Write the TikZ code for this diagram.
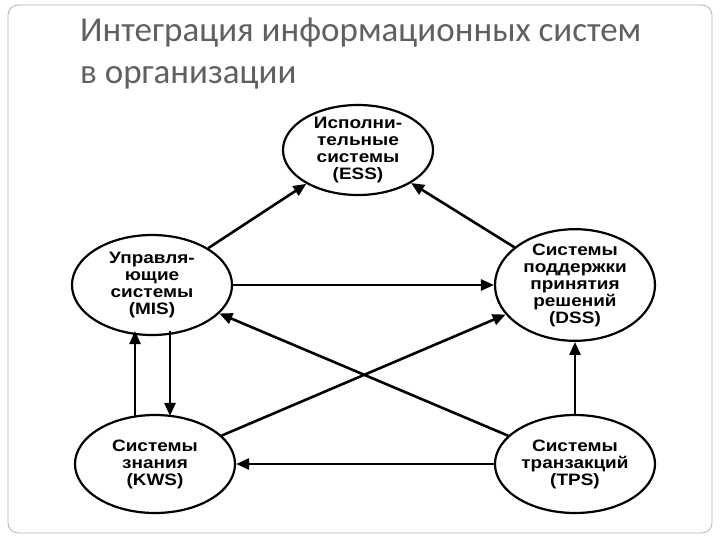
\documentclass[tikz,border=0pt]{standalone}
\usepackage{fontspec}
\setmainfont{Liberation Sans}
\newfontfamily\titlefont{Carlito}
\newfontfamily\boxfont[FakeStretch=1.15]{Liberation Sans}
\usetikzlibrary{arrows.meta,shapes.geometric}
\begin{document}
\begin{tikzpicture}[x=1pt,y=-1pt,
  sys/.style={ellipse,draw,line width=2.2pt,minimum width=#1,inner sep=-2pt,font=\boxfont\bfseries\fontsize{16.5}{17}\selectfont,align=center},
  arr/.style={-{Triangle[length=13pt,width=11pt]},line width=2.6pt}]
\useasboundingbox (0,0) rectangle (720,540);
\draw[gray!60,rounded corners=10pt,line width=0.8pt] (8,5) rectangle (712,533);
\node[anchor=west,inner sep=0pt,text=gray!75!black,font=\titlefont\fontsize{35}{42}\selectfont,align=left] (title) at (80,54) {Интеграция информационных систем\\в организации};
\node[sys=150pt,minimum height=90pt] (ess) at (358,150) {Исполни-\\тельные\\системы\\(ESS)};
\node[sys=160pt,minimum height=100pt] (mis) at (152,285) {Управля-\\ющие\\системы\\(MIS)};
\node[sys=160pt,minimum height=100pt] (dss) at (575,285) {Системы\\поддержки\\принятия\\решений\\(DSS)};
\node[sys=160pt,minimum height=98pt] (kws) at (155,464) {Системы\\знания\\(KWS)};
\node[sys=160pt,minimum height=98pt] (tps) at (575,464) {Системы\\транзакций\\(TPS)};
\draw[arr] (mis) -- (ess);
\draw[arr] (dss) -- (ess);
\draw[arr] (mis) -- (dss);
\draw[arr] (tps) -- (mis);
\draw[arr] (kws) -- (dss);
\draw[arr] (tps) -- (kws);
\draw[arr] (tps) -- (dss);
\draw[arr] ([xshift=-20pt,yshift=-2pt]kws.north) -- ([xshift=-20pt,yshift=5pt]kws.north |- mis.south);
\draw[arr] ([xshift=15pt,yshift=5pt]kws.north |- mis.south) -- ([xshift=15pt,yshift=-2pt]kws.north);
\end{tikzpicture}
\end{document}
